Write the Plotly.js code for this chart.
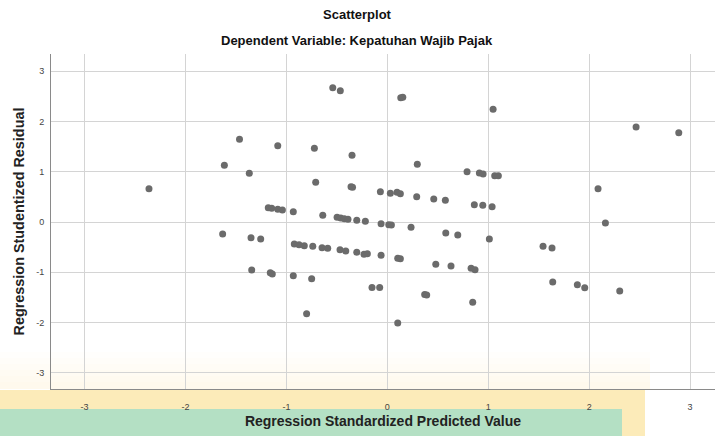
<!DOCTYPE html>
<html>
<head>
<meta charset="utf-8">
<script src="https://cdn.plot.ly/plotly-3.0.1.min.js"></script>
<style>html,body{margin:0;padding:0;background:#fff;}#chart{width:715px;height:436px;}</style>
</head>
<body>
<div id="chart"></div>
<script>
// Regression Standardized Predicted Value
const predicted = [
  -2.362, -1.632, -1.615, -1.465, -1.368, -1.351, -1.255, -1.344, -1.160, -1.140,
  -1.180, -1.146, -1.086, -1.040, -1.086, -0.932, -0.932, -0.922, -0.875, -0.823,
  -0.739, -0.647, -0.591, -0.469, -0.412, -0.303, -0.231, -0.198, -0.062, 0.103,
  0.129, -0.750, -0.800, -0.723, -0.710, -0.640, -0.541, -0.466, -0.498, -0.462,
  -0.426, -0.390, -0.350, -0.360, -0.345, -0.303, -0.218, -0.152, -0.076, -0.069,
  -0.062, 0.014, 0.040, 0.030, 0.096, 0.129, 0.103, 0.133, 0.153, 0.235,
  0.291, 0.297, 0.370, 0.390, 0.460, 0.480, 0.575, 0.579, 0.631, 0.698,
  0.790, 0.830, 0.869, 0.846, 0.862, 0.946, 1.038, 0.912, 0.949, 1.064,
  1.100, 1.011, 1.048, 1.543, 1.632, 1.639, 1.883, 1.956, 2.088, 2.161,
  2.303, 2.465, 2.888
];
// Regression Studentized Residual
const residual = [
  0.662, -0.239, 1.127, 1.644, 0.968, -0.312, -0.338, -0.954, -1.008, -1.034,
  0.284, 0.272, 0.252, 0.239, 1.517, 0.205, -1.067, -0.437, -0.451, -0.471,
  -0.483, -0.511, -0.523, -0.551, -0.577, -0.603, -0.643, -0.630, -0.662, -0.722,
  -0.729, -1.127, -1.823, 1.465, 0.789, 0.133, 2.670, 2.610, 0.093, 0.080,
  0.066, 0.054, 1.326, 0.700, 0.690, 0.034, 0.013, -1.300, -1.300, 0.603,
  -0.033, -0.053, -0.060, 0.570, 0.590, 0.563, -2.008, 2.470, 2.480, -0.106,
  0.503, 1.147, -1.440, -1.450, 0.457, -0.841, 0.431, -0.219, -0.875, -0.258,
  1.000, -0.920, -0.948, -1.597, 0.344, 0.332, 0.304, 0.974, 0.954, 0.920,
  0.920, -0.338, 2.240, -0.483, -0.517, -1.193, -1.246, -1.306, 0.662, -0.020,
  -1.372, 1.889, 1.776
];
const tickVals = [-3, -2, -1, 0, 1, 2, 3];
const tickText = ['-3', '-2', '-1', '0', '1', '2', '3'];

const W = 715, H = 436, L = 51, R = 0, T = 54, B = 47;
const pw = W - L - R, ph = H - T - B;
function px(x) { return (x - L) / pw; }
function py(y) { return (H - B - y) / ph; }

const data = [{
  type: 'scatter',
  mode: 'markers',
  x: predicted,
  y: residual,
  marker: { size: 7, color: '#6b6b6b' },
  hoverinfo: 'x+y',
  showlegend: false
}];

const font = 'Liberation Sans, Arial, sans-serif';
const fade = [];
for (let i = 0; i < 6; i++) {
  fade.push({ type: 'rect', xref: 'paper', yref: 'paper', x0: px(0), x1: px(650), y0: py(389), y1: py(352 + i * 6), fillcolor: 'rgba(252,238,200,0.06)', line: { width: 0 }, layer: 'below' });
}
const layout = {
  width: W, height: H,
  margin: { l: L, r: R, t: T, b: B, pad: 0 },
  paper_bgcolor: '#ffffff',
  plot_bgcolor: '#ffffff',
  font: { family: font, color: '#333' },
  xaxis: {
    range: [-3.333, 3.247],
    tickvals: tickVals, ticktext: tickText,
    showgrid: true, gridcolor: '#d4d4d4', gridwidth: 1,
    zeroline: false,
    showline: true, linecolor: '#8a8a8a', linewidth: 1,
    ticks: '', ticklabelstandoff: 9,
    tickfont: { size: 9, color: '#444', family: font },
    title: { text: 'Regression Standardized Predicted Value', font: { size: 14, color: '#222', family: font, weight: 'bold' }, standoff: 5 }
  },
  yaxis: {
    range: [-3.32, 3.34],
    tickvals: tickVals, ticktext: tickText,
    showgrid: true, gridcolor: '#d4d4d4', gridwidth: 1,
    zeroline: false,
    showline: true, linecolor: '#8a8a8a', linewidth: 1,
    ticks: '', ticklabelstandoff: 4,
    tickfont: { size: 9, color: '#444', family: font },
    title: { text: 'Regression Studentized Residual', font: { size: 14.4, color: '#222', family: font, weight: 'bold' }, standoff: 8 }
  },
  shapes: fade.concat([
    { type: 'rect', xref: 'paper', yref: 'paper', x0: px(0), x1: px(645), y0: py(436), y1: py(390), fillcolor: '#fcebb9', line: { width: 0 }, layer: 'below' },
    { type: 'rect', xref: 'paper', yref: 'paper', x0: px(0), x1: px(622), y0: py(436), y1: py(409), fillcolor: '#b4e0c4', line: { width: 0 }, layer: 'below' }
  ]),
  annotations: [
    { text: 'Scatterplot', xref: 'paper', yref: 'paper', x: px(357), y: py(14), xanchor: 'center', yanchor: 'middle', showarrow: false, font: { size: 13, color: '#111', family: font, weight: 'bold' } },
    { text: 'Dependent Variable: Kepatuhan Wajib Pajak', xref: 'paper', yref: 'paper', x: px(357), y: py(40), xanchor: 'center', yanchor: 'middle', showarrow: false, font: { size: 13, color: '#111', family: font, weight: 'bold' } }
  ]
};

Plotly.newPlot('chart', data, layout, { displayModeBar: false, staticPlot: true });
</script>
</body>
</html>
